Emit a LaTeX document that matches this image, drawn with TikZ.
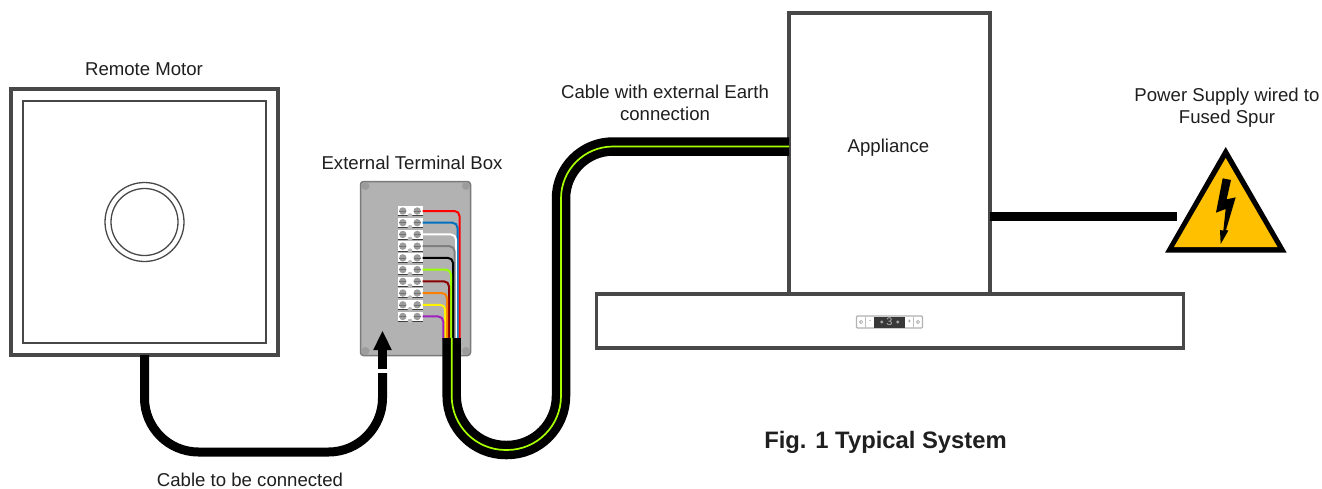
\documentclass[tikz,border=0pt]{standalone}
\usepackage{fontspec}
\setmainfont{Liberation Sans}
\definecolor{frame}{HTML}{484848}
\definecolor{boxfill}{HTML}{B2B2B2}
\definecolor{boxedge}{HTML}{7A7A7A}
\definecolor{screw}{HTML}{9C9C9C}
\definecolor{earth}{HTML}{A8FF00}
\definecolor{warn}{HTML}{FFC000}
\definecolor{wblue}{HTML}{0070C0}
\definecolor{wgrey}{HTML}{7F7F7F}
\definecolor{wdred}{HTML}{8B0000}
\definecolor{worange}{HTML}{FF8000}
\definecolor{wpurple}{HTML}{A020C0}
\definecolor{wgreen}{HTML}{99FF00}
\tikzset{
  label text/.style={font=\fontsize{18.6}{22}\selectfont, align=center, inner sep=0pt, text=black!88},
  frame box/.style={draw=frame, fill=white, line width=3.6pt, inner sep=0pt, outer sep=0pt},
  thin box/.style={draw=frame, fill=white, line width=1.2pt, inner sep=0pt, outer sep=0pt},
  cable/.style={line width=18.5pt, black},
  cable thin/.style={line width=9pt, black},
  earth core/.style={line width=1.7pt, earth},
  wire/.style={line width=2pt, rounded corners=5pt},
  terminal/.style={fill=white, inner sep=0pt, outer sep=0pt, minimum width=25pt, minimum height=9.5pt},
}
\begin{document}
\begin{tikzpicture}[x=1pt,y=-1pt]
\useasboundingbox (0,0) rectangle (1322,488);
\fill[white] (0,0) rectangle (1322,488);

% remote motor
\node[frame box, minimum width=267pt, minimum height=266pt] (motor) at (144.5,222) {};
\node[thin box, minimum width=243pt, minimum height=242pt] (motorin) at (144.5,222) {};
\node[draw=frame, line width=1.3pt, circle, minimum size=79pt, inner sep=0pt] (rotorout) at (144.5,222) {};
\node[draw=frame, line width=1.3pt, circle, minimum size=67pt, inner sep=0pt] (rotorin) at (144.5,222) {};

% terminal box
\node[draw=boxedge, fill=boxfill, line width=1.5pt, rounded corners=3pt, minimum width=110pt, minimum height=174pt, inner sep=0pt, outer sep=0pt] (tbox) at (415.5,268.5) {};
\foreach \p in {(365.5,186),(466,186),(365.5,351),(466,351)}
  \fill[screw] \p circle (4pt);

% wires and terminals
\foreach \i/\col/\x in {0/red/459.5,1/wblue/457.5,2/white/456,3/wgrey/454.5,4/black/453,5/wgreen/451,6/wdred/449,7/worange/447,8/yellow/445.2,9/wpurple/443.3}{
  \pgfmathsetmacro{\yy}{211+11.72*\i}
  \node[terminal] (t\i) at (410,\yy) {};
  \coordinate (wend\i) at (\x,340);
  \draw[wire, draw=\col] (t\i.east) -| (wend\i);
  \draw[black!75, line width=.6pt] (t\i.south west) -- (t\i.south east);
  \fill[white] (410,\yy+1) circle (3pt);
  \fill[screw!70] (410,\yy+4.6) circle (2.4pt);
  \fill[screw] (402.8,\yy) circle (3.7pt);
  \fill[screw] (417.2,\yy) circle (3.7pt);
  \draw[black!55, line width=.5pt] (399.2,\yy) -- (406.4,\yy);
  \draw[black!55, line width=.5pt] (413.6,\yy) -- (420.8,\yy);
}

% appliance and hood
\node[frame box, minimum width=201pt, minimum height=281pt] (appliance) at (889.5,153.5) {};
\node[frame box, minimum width=587pt, minimum height=54pt] (hood) at (890,321) {};

% cable with earth
\coordinate (cabstart) at (451.7,338);
\coordinate (cabb1) at (451.7,450);
\coordinate (cabb2) at (561,450);
\coordinate (cabt1) at (561,146.5);
\coordinate (cabend) at (appliance.west |- cabt1);
\draw[cable, rounded corners=54pt] (cabstart) -- (cabb1) -- (cabb2) [rounded corners=52pt] -- (cabt1) -- (cabend);
\draw[earth core, rounded corners=54pt] (cabstart) -- (cabb1) -- (cabb2) [rounded corners=52pt] -- (cabt1) -- (cabend);

% control panel
\node[draw=black!30, fill=white, line width=1.3pt, rounded corners=1pt, minimum width=66pt, minimum height=12pt, inner sep=0pt] (panel) at (889.5,322) {};
\fill[black!78] (874,316.5) rectangle (905,327.5);
\draw[black!25, line width=.5pt] (865.7,316.5) -- (865.7,327.5) (913,316.5) -- (913,327.5);
\foreach \x in {861,918}
  \draw[black!50, line width=.5pt] (\x,322) circle (1.6pt);
\foreach \x in {881.7,897.7}
  \fill[black!35] (\x,322) circle (1.7pt);
\node[font=\fontsize{11}{11}\selectfont, text=black!30, inner sep=0pt] (disp) at (889.5,322) {3};
\node[font=\fontsize{6}{6}\selectfont, text=black!60, inner sep=0pt] (minus) at (870,322) {-};
\node[font=\fontsize{6}{6}\selectfont, text=black!60, inner sep=0pt] (plus) at (909.3,322) {+};

% motor cable
\coordinate (mcb1) at (motor.south |- 0,452);
\coordinate (mcb2) at (382.5,452);
\coordinate (mcend) at (382.5,373);
\draw[cable thin, rounded corners=54pt] (motor.south) -- (mcb1) -- (mcb2) -- (mcend);

% arrow
\coordinate (arrtail) at (382.5,369);
\coordinate (arrbase) at (382.5,349.5);
\coordinate (arrtip) at (382.5,331);
\draw[black, line width=9pt] (arrtail) -- (arrbase);
\fill[black] (arrtip) -- (373.2,350) -- (391.8,350) -- cycle;

% warning sign
\fill[black] (1225.7,147) -- (1286.7,252.7) -- (1165,252.7) -- cycle;
\fill[warn] (1225.7,158) -- (1277.5,247) -- (1174,247) -- cycle;
\begin{scope}[shift={(1160,140)},x=.3333pt,y=-.3333pt]
\fill[black] (188,115) -- (213,120) -- (200,178) -- (227,172) -- (198,270) -- (205,272) -- (182,312) -- (180,270) -- (190,272) -- (197,207) -- (168,218) -- cycle;
\end{scope}
\coordinate (pwend) at (1177,216.5);
\draw[black, line width=9pt] (appliance.east |- pwend) -- (pwend);

% labels
\node[label text] (l1) at (144,69) {Remote Motor};
\node[label text] (l2) at (412,162.5) {External Terminal Box};
\node[label text] (l3) at (665,103) {Cable with external Earth\\connection};
\node[label text] (l4) at (888.5,148) {Appliance};
\node[label text] (l5) at (1227,108) {Power Supply wired to\\Fused Spur};
\node[label text] (l6) at (250,480) {Cable to be connected};
\node[label text, font=\fontsize{23.8}{26}\selectfont\bfseries] (l7) at (885.5,442) {Fig. 1 Typical System};
\end{tikzpicture}
\end{document}
